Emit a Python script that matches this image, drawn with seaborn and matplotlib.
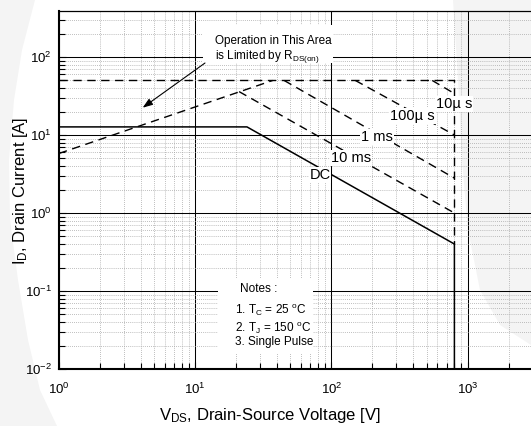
import numpy as np
import pandas as pd
import matplotlib
matplotlib.use('Agg')
import matplotlib.pyplot as plt
import seaborn as sns
from matplotlib import font_manager
from matplotlib.patches import Polygon, Rectangle
from matplotlib.ticker import LogLocator, NullFormatter, LogFormatterSciNotation

# safe operating area (V_DS in V, I_D in A)
rds_v = [1, 37]
rds_i = [5.8, 50]
lim_v = [1, 800, 800]
lim_i = [50, 50, 0.4]
t10us_v = [550, 800]
t10us_i = [50, 34]
t100us_v = [150, 800]
t100us_i = [50, 10]
t1ms_v = [45, 800]
t1ms_i = [50, 2.8]
t10ms_v = [21, 800]
t10ms_i = [36, 1.0]
dc_v = [1, 24, 800, 800]
dc_i = [12.7, 12.7, 0.4, 0.01]

curve_labels = ['10µ s', '100µ s', '1 ms', '10 ms', 'DC']
x_ticks = [1, 10, 100, 1000]
y_ticks = [0.01, 0.1, 1, 10, 100]

sns.set_theme(style='white')
installed = {f.name for f in font_manager.fontManager.ttflist}
fam = 'Liberation Sans Narrow' if 'Liberation Sans Narrow' in installed else 'Liberation Sans'
plt.rcParams['font.family'] = [fam, 'DejaVu Sans']
plt.rcParams['mathtext.fontset'] = 'custom'
plt.rcParams['mathtext.rm'] = fam
plt.rcParams['mathtext.it'] = fam + ':italic'
plt.rcParams['mathtext.bf'] = fam + ':bold'

W, H = 531, 426
fig = plt.figure(figsize=(W / 100, H / 100), dpi=100)
fig.patch.set_facecolor('#f4f4f4')

# faint watermark: white area inside a light grey swoosh
wm = [(35, 0), (453, 0), (458, 80), (462, 160), (468, 230), (480, 290), (500, 325),
      (531, 345), (531, 426), (57, 426), (40, 390), (28, 340), (18, 280), (10, 220),
      (9, 160), (14, 100), (22, 50)]
fig.add_artist(Polygon([(x / W, 1 - y / H) for x, y in wm], closed=True,
                       transform=fig.transFigure, fc='white', ec='none', zorder=0))

ax = fig.add_axes([59 / W, 57 / H, 472 / W, 358 / H])
ax.set_facecolor('none')
ax.set_xscale('log')
ax.set_yscale('log')

dash = (0, (6, 4))
sns.lineplot(x=rds_v, y=rds_i, ax=ax, color='black', lw=1.0, ls=dash, sort=False, estimator=None, zorder=3)
sns.lineplot(x=lim_v, y=lim_i, ax=ax, color='black', lw=1.0, ls=dash, sort=False, estimator=None, zorder=3)
for v, i in [(t10us_v, t10us_i), (t100us_v, t100us_i), (t1ms_v, t1ms_i), (t10ms_v, t10ms_i)]:
    sns.lineplot(x=v, y=i, ax=ax, color='black', lw=1.0, ls=dash, sort=False, estimator=None, zorder=3)
sns.lineplot(x=dc_v, y=dc_i, ax=ax, color='black', lw=1.1, sort=False, estimator=None, zorder=3)

ax.set_xlim(1, 10 ** (472 / 136.2))
ax.set_ylim(0.01, 10 ** (-2 + 358 / 78))
ax.set_xticks(x_ticks)
ax.set_yticks(y_ticks)
for a in (ax.xaxis, ax.yaxis):
    a.set_major_formatter(LogFormatterSciNotation())
    a.set_minor_locator(LogLocator(base=10, subs=np.arange(2, 10), numticks=20))
    a.set_minor_formatter(NullFormatter())

ax.grid(which='major', color='black', lw=0.75, ls='-', zorder=1)
ax.grid(which='minor', color='#a8a8a8', lw=0.6, ls=(0, (1, 1.5)), zorder=1)
ax.set_axisbelow(True)
ax.tick_params(which='both', direction='in', bottom=True, left=True, top=False, right=False,
               color='black', width=0.8)
ax.tick_params(which='major', length=5)
ax.tick_params(which='minor', length=4)
ax.tick_params(axis='x', which='major', pad=9, labelsize=9.5, labelcolor='black')
ax.tick_params(axis='y', which='major', pad=5, labelsize=9.5, labelcolor='black')

ax.spines['right'].set_visible(False)
ax.spines['top'].set_linewidth(0.9)
ax.spines['left'].set_linewidth(1.5)
ax.spines['bottom'].set_linewidth(1.5)
for s in ax.spines.values():
    s.set_color('black')

# curve labels
lab_pos = [(0.8369, 0.7402), (0.7490, 0.7060), (0.6737, 0.6480), (0.6186, 0.5890), (0.5530, 0.5419)]
box = dict(facecolor='white', edgecolor='none', pad=0.6)
for txt, (px, py) in zip(curve_labels, lab_pos):
    ax.text(px, py, txt, transform=ax.transAxes, ha='center', va='center', fontsize=10.5,
            color='black', bbox=box, zorder=6)

# R_DS(on) note with arrow
ax.add_patch(Rectangle((0.305, 0.855), 0.2755, 0.106, transform=ax.transAxes,
                       fc='white', ec='none', zorder=4))
ax.text(0.3305, 0.916, 'Operation in This Area', transform=ax.transAxes, ha='left', va='center',
        fontsize=8.5, color='black', zorder=6)
ax.text(0.3305, 0.874, r'is Limited by R$_{\rm DS(on)}$', transform=ax.transAxes, ha='left',
        va='center', fontsize=8.5, color='black', zorder=6)
ax.annotate('', xy=(0.1773, 0.7299), xycoords='axes fraction', xytext=(0.3093, 0.8547),
            textcoords='axes fraction',
            arrowprops=dict(arrowstyle='-|>,head_length=0.5,head_width=0.18', color='black',
                            lw=0.8, mutation_scale=12, shrinkA=0, shrinkB=0), zorder=6)

# notes box
ax.add_patch(Rectangle((0.337, 0.0447), 0.201, 0.2095, transform=ax.transAxes,
                       fc='white', ec='none', zorder=4))
notes = ['Notes :', r'1. T$_{\rm C}$ = 25 $^{\rm o}$C', r'2. T$_{\rm J}$ = 150 $^{\rm o}$C', '3. Single Pulse']
note_pos = [(0.383, 0.2235), (0.373, 0.165), (0.373, 0.1145), (0.373, 0.0754)]
for txt, (px, py) in zip(notes, note_pos):
    ax.text(px, py, txt, transform=ax.transAxes, ha='left', va='center', fontsize=8.5,
            color='black', zorder=6)

fig.text(25 / W, 1 - 191 / H, r'I$_{\rm D}$, Drain Current [A]', rotation=90, rotation_mode='anchor',
         ha='center', va='baseline', fontsize=12, color='black')
fig.text(269.5 / W, 1 - 420 / H, r'V$_{\rm DS}$, Drain-Source Voltage [V]', ha='center',
         va='baseline', fontsize=12, color='black')

fig.savefig('out.png', dpi=100, facecolor=fig.get_facecolor())
